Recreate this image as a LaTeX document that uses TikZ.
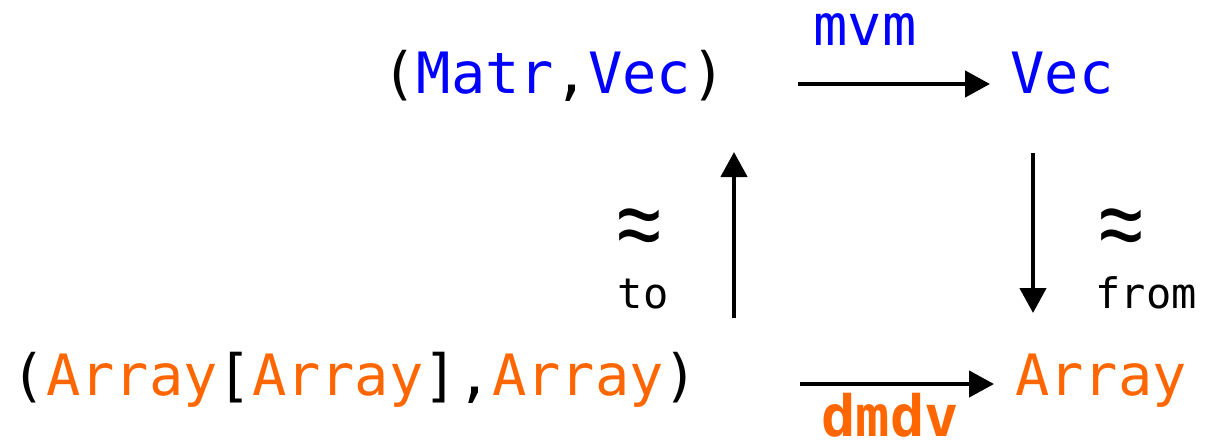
\documentclass[tikz,border=0pt]{standalone}
\usepackage{fontspec}
\usepackage{graphicx}
\newfontfamily\monof{DejaVu Sans Mono}
\newfontfamily\apf{Liberation Sans}
\usetikzlibrary{arrows.meta}
\definecolor{tblue}{RGB}{0,0,255}
\definecolor{torange}{RGB}{255,102,0}
\tikzset{
  big/.style={font=\monof\fontsize{57}{60}\selectfont, inner sep=0pt, anchor=base},
  small/.style={font=\monof\fontsize{42}{46}\selectfont, inner sep=0pt, anchor=base},
  approxs/.style={font=\apf\fontsize{76}{80}\selectfont, inner sep=0pt},
  arr/.style={line width=4.5pt, -{Triangle[length=25pt,width=26pt]}},
}
\newcommand{\bigapprox}{\scalebox{1.05}[1.35]{≈}}
\begin{document}
\begin{tikzpicture}[x=1pt,y=-1pt]
\useasboundingbox (0,0) rectangle (1212,445);
\node[big] (mv) at (554,93) {(\textcolor{tblue}{Matr},\textcolor{tblue}{Vec})};
\node[big,text=tblue] (vec) at (1062,93) {Vec};
\node[big] (aa) at (355,395) {(\textcolor{torange}{Array}[\textcolor{torange}{Array}],\textcolor{torange}{Array})};
\node[big,text=tblue] (mvm) at (865,45) {mvm};
\node[big,text=torange] (arr) at (1101,395) {Array};
\node[big,text=torange,text depth=0pt] (dmdv) at (890,436) {\bfseries dmdv};
\node[approxs] (apl) at (639,234) {\bigapprox};
\node[small] (to) at (643,308) {to};
\node[approxs] (apr) at (1121,234) {\bigapprox};
\node[small] (from) at (1146,308) {from};
\coordinate (t1) at (798,84);
\coordinate (t2) at (990,84);
\coordinate (b1) at (800,384);
\coordinate (b2) at (994,384);
\coordinate (u1) at (734,318);
\coordinate (u2) at (734,152);
\coordinate (d1) at (1033,153);
\coordinate (d2) at (1033,313);
\draw[arr] (t1) -- (t2);
\draw[arr] (b1) -- (b2);
\draw[arr] (u1) -- (u2);
\draw[arr] (d1) -- (d2);
\end{tikzpicture}
\end{document}
